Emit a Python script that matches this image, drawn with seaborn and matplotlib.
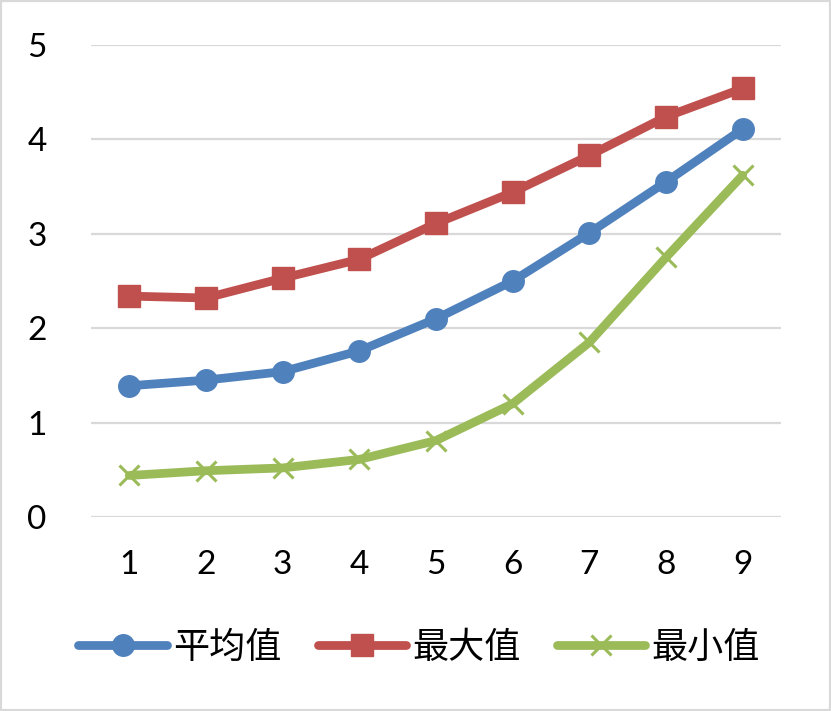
import pandas as pd
import seaborn as sns
import matplotlib.pyplot as plt
from matplotlib.patches import Rectangle

# ============ Data ============
x_vals = [1, 2, 3, 4, 5, 6, 7, 8, 9]
mean_vals = [1.39, 1.45, 1.54, 1.76, 2.10, 2.50, 3.01, 3.55, 4.11]
max_vals = [2.34, 2.32, 2.53, 2.73, 3.11, 3.44, 3.83, 4.24, 4.54]
min_vals = [0.44, 0.49, 0.52, 0.61, 0.81, 1.20, 1.85, 2.75, 3.62]
labels = ["平均值", "最大值", "最小值"]
colors = ["#4F81BD", "#C0504D", "#9BBB59"]
markers = ["o", "s", "x"]

df = pd.DataFrame({"x": x_vals, labels[0]: mean_vals,
                   labels[1]: max_vals, labels[2]: min_vals})

# ============ Style ============
sns.set_style("white")
plt.rcParams['font.family'] = ['Lato', 'Noto Sans CJK SC', 'DejaVu Sans']
plt.rcParams['text.color'] = 'black'

fig = plt.figure(figsize=(8.31, 7.11), dpi=100)
ax = fig.add_axes([91 / 831, 1 - 517 / 711, 690 / 831, 472 / 711])

for name, c, m in zip(labels, colors, markers):
    if m == "x":
        mk = dict(markersize=15, markeredgewidth=2.2)
    else:
        mk = dict(markersize=15.5, markeredgewidth=1.0)
    sns.lineplot(data=df, x="x", y=name, ax=ax, color=c, marker=m,
                 linewidth=6.3, markeredgecolor=c, markerfacecolor=c,
                 label=name, solid_capstyle="round", zorder=3, **mk)

ax.set_xlim(0.5, 9.5)
ax.set_ylim(0, 5)
ax.set_xticks(x_vals)
ax.set_yticks([0, 1, 2, 3, 4, 5])
ax.set_xlabel("")
ax.set_ylabel("")
ax.grid(axis="y", color="#D9D9D9", linewidth=1.6)
ax.grid(axis="x", visible=False)
for s in ax.spines.values():
    s.set_visible(False)
ax.tick_params(axis="y", length=0, pad=32, labelsize=24, labelcolor="black")
ax.tick_params(axis="x", length=0, pad=24, labelsize=24, labelcolor="black")

# ============ Legend ============
leg = ax.legend(loc="center", bbox_to_anchor=(419 / 831, 1 - 648 / 711),
                bbox_transform=fig.transFigure, ncol=3, frameon=False,
                prop={"family": ["Noto Sans CJK SC"], "size": 26},
                handlelength=2.45, handletextpad=0.17, columnspacing=1.0)
for t in leg.get_texts():
    t.set_color("black")

# ---- chart border ----
fig.add_artist(Rectangle((0, 0), 1, 1, transform=fig.transFigure,
                         fill=False, edgecolor="#D9D9D9", linewidth=3))

fig.savefig("out.png", dpi=100)
